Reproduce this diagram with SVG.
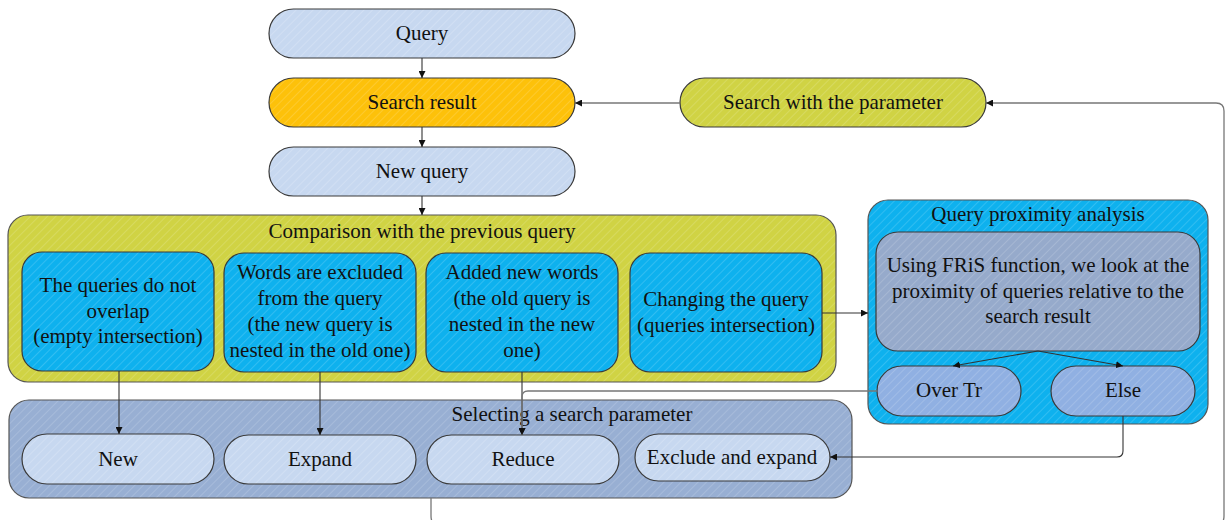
<svg xmlns="http://www.w3.org/2000/svg" width="1226" height="520" viewBox="0 0 1226 520">
<defs>
<style>
text{font-family:"Liberation Serif","Times New Roman",serif;font-size:21px;fill:#111;text-anchor:middle}
.n{stroke:#3a3a3a;stroke-width:1.2}
.c{stroke:#555;stroke-width:1.2}
.e{fill:none;stroke:#333;stroke-width:1.1}
.g{fill:none;stroke:#777;stroke-width:1.3}
</style>
<pattern id="pLight" width="6" height="6" patternUnits="userSpaceOnUse" patternTransform="rotate(45)"><rect width="6" height="6" fill="#c7d8f0"/><line x1="0" y1="0" x2="0" y2="6" stroke="#fff" stroke-opacity="0.3" stroke-width="1.2"/></pattern>
<pattern id="pOrange" width="6" height="6" patternUnits="userSpaceOnUse" patternTransform="rotate(45)"><rect width="6" height="6" fill="#fdc10a"/><line x1="0" y1="0" x2="0" y2="6" stroke="#fff" stroke-opacity="0.25" stroke-width="1.2"/></pattern>
<pattern id="pOlive" width="6" height="6" patternUnits="userSpaceOnUse" patternTransform="rotate(45)"><rect width="6" height="6" fill="#d0d344"/><line x1="0" y1="0" x2="0" y2="6" stroke="#fff" stroke-opacity="0.25" stroke-width="1.2"/></pattern>
<pattern id="pBlue" width="6" height="6" patternUnits="userSpaceOnUse" patternTransform="rotate(45)"><rect width="6" height="6" fill="#0eb1ee"/><line x1="0" y1="0" x2="0" y2="6" stroke="#fff" stroke-opacity="0.25" stroke-width="1.2"/></pattern>
<pattern id="pGrey" width="6" height="6" patternUnits="userSpaceOnUse" patternTransform="rotate(45)"><rect width="6" height="6" fill="#96aacb"/><line x1="0" y1="0" x2="0" y2="6" stroke="#fff" stroke-opacity="0.25" stroke-width="1.2"/></pattern>
<pattern id="pMid" width="6" height="6" patternUnits="userSpaceOnUse" patternTransform="rotate(45)"><rect width="6" height="6" fill="#90b0e2"/><line x1="0" y1="0" x2="0" y2="6" stroke="#fff" stroke-opacity="0.25" stroke-width="1.2"/></pattern>
<pattern id="pSel" width="6" height="6" patternUnits="userSpaceOnUse" patternTransform="rotate(45)"><rect width="6" height="6" fill="#98afd3"/><line x1="0" y1="0" x2="0" y2="6" stroke="#fff" stroke-opacity="0.25" stroke-width="1.2"/></pattern>
<marker id="ar" viewBox="0 0 10 10" refX="10" refY="5" markerWidth="7" markerHeight="7" markerUnits="userSpaceOnUse" orient="auto"><path d="M0,0 L10,5 L0,10 z" fill="#111"/></marker>
</defs>

<g id="comparison">
<rect x="8" y="215" width="828" height="167" rx="20" fill="url(#pOlive)" class="c"/>
<text x="422" y="238">Comparison with the previous query</text>
</g>
<g id="proximity">
<rect x="868" y="200" width="340" height="224" rx="20" fill="url(#pBlue)" class="c"/>
<text x="1038" y="221">Query proximity analysis</text>
</g>
<g id="selecting">
<rect x="9" y="400" width="843" height="98" rx="20" fill="url(#pSel)" class="c"/>
<text x="572" y="421">Selecting a search parameter</text>
</g>

<g id="query"><rect x="269" y="9" width="306" height="49" rx="24.5" fill="url(#pLight)" class="n"/><text x="422" y="40">Query</text></g>
<g id="search-result"><rect x="269" y="78" width="306" height="49" rx="24.5" fill="url(#pOrange)" class="n"/><text x="422" y="109">Search result</text></g>
<g id="new-query"><rect x="269" y="147" width="306" height="49" rx="24.5" fill="url(#pLight)" class="n"/><text x="422" y="178">New query</text></g>
<g id="search-param"><rect x="680" y="78" width="306" height="49" rx="24.5" fill="url(#pOlive)" class="n"/><text x="833" y="109">Search with the parameter</text></g>

<g id="no-overlap"><rect x="22" y="252" width="192" height="119" rx="20" fill="url(#pBlue)" class="n"/>
<text x="118" y="292">The queries do not</text><text x="118" y="318">overlap</text><text x="118" y="343">(empty intersection)</text></g>
<g id="excluded"><rect x="224" y="253" width="192" height="119" rx="20" fill="url(#pBlue)" class="n"/>
<text x="320" y="279">Words are excluded</text><text x="320" y="305">from the query</text><text x="320" y="331">(the new query is</text><text x="320" y="357">nested in the old one)</text></g>
<g id="added"><rect x="426" y="253" width="192" height="119" rx="20" fill="url(#pBlue)" class="n"/>
<text x="522" y="279">Added new words</text><text x="522" y="305">(the old query is</text><text x="522" y="331">nested in the new</text><text x="522" y="357">one)</text></g>
<g id="changing"><rect x="630" y="253" width="192" height="119" rx="20" fill="url(#pBlue)" class="n"/>
<text x="726" y="306">Changing the query</text><text x="726" y="332">(queries intersection)</text></g>

<g id="fris"><rect x="876" y="232" width="324" height="119" rx="22" fill="url(#pGrey)" class="n"/>
<text x="1038" y="272">Using FRiS function, we look at the</text><text x="1038" y="298">proximity of queries relative to the</text><text x="1038" y="323">search result</text></g>
<g id="over-tr"><rect x="877" y="366" width="144" height="50" rx="25" fill="url(#pMid)" class="n"/><text x="949" y="397">Over Tr</text></g>
<g id="else"><rect x="1051" y="366" width="144" height="50" rx="25" fill="url(#pMid)" class="n"/><text x="1123" y="397">Else</text></g>

<g id="new"><rect x="22" y="434" width="192" height="50" rx="25" fill="url(#pLight)" class="n"/><text x="118" y="466">New</text></g>
<g id="expand"><rect x="224" y="435" width="192" height="49" rx="24.5" fill="url(#pLight)" class="n"/><text x="320" y="466">Expand</text></g>
<g id="reduce"><rect x="427" y="435" width="192" height="49" rx="24.5" fill="url(#pLight)" class="n"/><text x="523" y="466">Reduce</text></g>
<g id="exclude-expand"><rect x="635" y="434" width="195" height="47" rx="23.5" fill="url(#pLight)" class="n"/><text x="732" y="464">Exclude and expand</text></g>

<g id="connectors">
<path class="e" d="M422,58 V78" marker-end="url(#ar)"/>
<path class="e" d="M422,127 V147" marker-end="url(#ar)"/>
<path class="e" d="M422,196 V215" marker-end="url(#ar)"/>
<path class="g" d="M680,103 H575" marker-end="url(#ar)"/>
<path class="g" d="M431,498 V516 Q431,526 441,526 H1214 Q1224,526 1224,516 V111 Q1224,103 1216,103 H986" marker-end="url(#ar)"/>
<path class="e" d="M119,371 V434" marker-end="url(#ar)"/>
<path class="e" d="M320,372 V435" marker-end="url(#ar)"/>
<path class="e" d="M522,372 V435" marker-end="url(#ar)"/>
<path class="e" d="M822,313 H868" marker-end="url(#ar)"/>
<path class="e" d="M1038,351 L953,366" marker-end="url(#ar)"/>
<path class="e" d="M1038,351 L1123,366" marker-end="url(#ar)"/>
<path class="g" d="M877,391 H528 Q522,391 522,397 V435" marker-end="url(#ar)"/>
<path class="e" d="M1123,416 V451 Q1123,457 1117,457 H830" marker-end="url(#ar)"/>
</g>
</svg>
